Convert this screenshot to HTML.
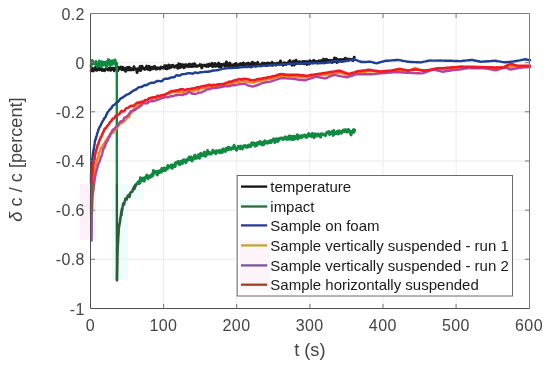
<!DOCTYPE html><html><head><meta charset="utf-8"><title>plot</title><style>html,body{margin:0;padding:0;background:#fff;width:550px;height:366px;overflow:hidden}</style></head><body><svg width="550" height="366" viewBox="0 0 550 366" style="position:absolute;left:0;top:0">
<defs><clipPath id="cp"><rect x="89.5" y="12" width="441.5" height="297"/></clipPath><clipPath id="up"><rect x="0" y="0" width="550" height="184"/></clipPath><clipPath id="lo"><rect x="0" y="184" width="550" height="182"/></clipPath></defs>
<rect width="550" height="366" fill="#fff"/>
<rect x="80" y="184" width="16" height="56" fill="#fdf0f9"/>
<rect x="112" y="184" width="16" height="96" fill="#eefcfc"/><rect x="128" y="184" width="16" height="16" fill="#f1fdfd"/>
<g stroke="#ebebeb" stroke-width="1"><line x1="163.6" y1="13.5" x2="163.6" y2="308.5"/><line x1="236.7" y1="13.5" x2="236.7" y2="308.5"/><line x1="309.9" y1="13.5" x2="309.9" y2="308.5"/><line x1="383.0" y1="13.5" x2="383.0" y2="308.5"/><line x1="456.1" y1="13.5" x2="456.1" y2="308.5"/><line x1="90.5" y1="62.7" x2="529.2" y2="62.7"/><line x1="90.5" y1="111.8" x2="529.2" y2="111.8"/><line x1="90.5" y1="161.0" x2="529.2" y2="161.0"/><line x1="90.5" y1="210.2" x2="529.2" y2="210.2"/><line x1="90.5" y1="259.3" x2="529.2" y2="259.3"/></g>
<g clip-path="url(#cp)">
<g clip-path="url(#up)">
<polyline clip-path="url(#up)" points="90.8,70.9 91.4,70.7 92.0,69.7 92.6,68.3 93.2,70.9 93.8,69.4 94.4,69.3 95.0,69.8 95.6,67.3 96.2,69.6 96.8,70.2 97.4,69.5 98.0,69.3 98.6,68.1 99.2,69.8 99.8,69.3 100.4,69.1 101.0,68.5 101.6,70.0 102.2,70.4 102.8,69.5 103.4,70.0 104.0,70.4 104.6,70.7 105.2,69.3 105.8,68.8 106.4,68.6 107.0,69.0 107.6,69.6 108.2,70.0 108.8,68.5 109.4,69.1 110.0,67.9 110.6,70.3 111.2,68.5 111.8,69.3 112.4,68.2 113.0,68.6 113.6,68.2 114.2,70.7 114.8,69.3 115.4,68.7 116.0,67.9 116.6,68.3 117.2,69.5 117.8,70.6 118.4,67.4 119.0,67.9 119.6,68.7 120.2,68.2 120.8,67.1 121.4,68.9 122.0,69.6 122.6,67.2 123.2,69.0 123.8,69.8 124.4,69.8 125.0,68.3 125.6,71.2 126.2,69.4 126.8,67.9 127.4,69.8 128.0,67.6 128.6,69.7 129.2,67.4 129.8,69.6 130.4,68.1 131.0,69.9 131.6,69.5 132.2,69.2 132.8,68.8 133.4,69.8 134.0,66.8 134.6,69.1 135.2,69.1 135.9,69.2 136.5,69.5 137.1,72.5 137.7,68.8 138.3,69.5 138.9,68.8 139.5,70.3 140.1,66.5 140.7,70.4 141.3,67.8 141.9,66.2 142.5,67.4 143.1,68.3 143.7,68.7 144.3,68.4 144.9,69.3 145.5,68.3 146.1,68.3 146.7,66.1 147.3,68.8 147.9,69.3 148.5,67.8 149.1,66.3 149.7,66.8 150.3,69.9 150.9,67.5 151.5,67.4 152.1,67.3 152.7,68.8 153.3,67.5 153.9,67.1 154.5,66.4 155.1,67.9 155.7,69.0 156.3,67.8 156.9,68.9 157.5,68.1 158.1,68.0 158.7,68.0 159.3,67.9 159.9,68.9 160.5,68.3 161.1,67.1 161.7,67.8 162.3,67.5 162.9,68.0 163.5,67.7 164.0,67.9 164.6,65.8 165.2,67.7 165.8,68.6 166.4,65.8 167.0,68.8 167.6,67.4 168.2,66.8 168.8,65.1 169.4,68.0 170.0,65.8 170.6,66.3 171.2,67.3 171.8,65.6 172.4,65.6 173.0,65.4 173.6,66.4 174.2,67.1 174.8,66.8 175.4,66.8 176.0,65.9 176.6,66.4 177.2,65.4 177.8,68.2 178.4,66.3 179.0,63.9 179.6,64.8 180.2,67.6 180.8,64.5 181.4,65.4 182.0,66.3 182.6,64.7 183.2,67.0 183.8,67.6 184.4,65.0 185.0,67.0 185.6,64.9 186.2,64.7 186.8,66.0 187.4,66.0 188.0,65.1 188.6,66.6 189.2,64.2 189.8,64.8 190.4,64.6 191.0,66.5 191.6,66.5 192.2,66.4 192.8,64.3 193.4,65.8 194.0,66.1 194.6,63.9 195.2,64.8 195.8,66.3 196.4,66.3 197.0,65.9 197.6,66.2 198.2,65.9 198.8,65.7 199.4,65.4 200.0,64.6 200.6,65.3 201.2,65.1 201.8,67.9 202.4,65.8 203.0,65.5 203.6,65.2 204.2,65.3 204.8,65.2 205.4,66.0 206.0,65.4 206.6,66.3 207.2,64.7 207.8,65.8 208.4,66.3 209.0,64.2 209.6,65.5 210.2,65.6 210.8,65.0 211.4,64.8 212.0,63.4 212.6,66.5 213.2,64.3 213.8,64.0 214.4,66.0 215.0,63.4 215.6,66.3 216.2,65.7 216.8,65.9 217.4,65.1 218.0,63.9 218.6,63.2 219.2,66.7 219.8,64.7 220.4,64.6 221.0,66.8 221.6,64.5 222.2,64.9 222.8,64.9 223.4,65.0 224.0,64.0 224.6,64.5 225.2,66.4 225.8,65.9 226.4,61.9 227.0,63.0 227.6,65.4 228.2,64.9 228.8,64.6 229.4,66.1 230.0,63.1 230.6,66.2 231.2,65.1 231.8,65.5 232.4,65.2 233.0,65.8 233.6,64.6 234.3,64.3 234.9,65.7 235.5,65.0 236.1,63.5 236.7,66.2 237.3,66.0 237.9,66.3 238.5,64.8 239.1,65.1 239.7,64.3 240.3,63.7 240.9,64.7 241.5,64.8 242.1,63.9 242.7,66.6 243.3,62.9 243.9,63.7 244.5,63.9 245.1,65.9 245.7,64.3 246.3,64.2 246.9,63.6 247.5,63.7 248.1,63.1 248.7,65.5 249.3,65.1 249.9,65.5 250.5,63.7 251.1,67.0 251.7,63.4 252.3,62.2 252.9,64.1 253.5,64.5 254.1,65.1 254.7,63.2 255.3,64.9 255.9,66.1 256.5,63.4 257.1,63.5 257.7,62.4 258.3,64.5 258.9,65.1 259.5,65.0 260.1,65.0 260.7,65.6 261.3,64.3 261.9,65.1 262.5,63.1 263.1,63.3 263.7,64.3 264.3,63.2 264.9,64.6 265.5,65.5 266.1,64.4 266.7,63.2 267.3,63.2 267.9,65.4 268.5,63.1 269.1,64.0 269.7,63.6 270.3,63.9 270.9,65.0 271.5,63.3 272.1,62.3 272.7,65.3 273.3,64.0 273.9,64.5 274.5,63.7 275.1,64.5 275.7,65.0 276.3,65.1 276.9,63.3 277.5,63.2 278.1,64.0 278.7,63.7 279.3,64.1 279.9,62.7 280.5,61.0 281.1,63.9 281.7,64.2 282.3,64.0 282.9,65.1 283.5,64.2 284.1,62.9 284.7,64.3 285.3,63.1 285.9,64.5 286.5,63.4 287.1,63.6 287.7,63.4 288.3,63.2 288.9,61.5 289.5,63.1 290.1,60.6 290.7,63.5 291.3,64.0 291.9,65.1 292.5,63.3 293.1,62.1 293.7,61.2 294.3,64.9 294.9,61.3 295.5,63.7 296.1,60.3 296.7,62.7 297.3,63.4 297.9,63.0 298.5,62.6 299.1,61.8 299.7,61.7 300.3,63.6 300.9,63.0 301.5,62.4 302.1,62.7 302.7,61.5 303.3,63.5 303.9,63.7 304.5,61.6 305.1,62.5 305.7,63.4 306.3,61.6 306.9,64.4 307.5,63.8 308.1,61.9 308.7,63.2 309.3,63.9 309.9,60.8 310.5,62.7 311.1,61.9 311.7,61.8 312.3,62.7 312.9,61.4 313.5,60.4 314.1,60.4 314.7,61.8 315.3,62.5 315.9,61.8 316.5,61.6 317.1,61.7 317.7,63.0 318.3,62.2 318.9,60.8 319.5,61.3 320.1,62.8 320.7,60.9 321.3,61.1 321.9,61.4 322.5,60.3 323.1,62.3 323.7,59.1 324.3,62.8 324.9,60.8 325.5,59.9 326.1,61.5 326.7,59.4 327.3,61.7 327.9,61.9 328.5,60.5 329.1,60.6 329.7,62.0 330.3,60.3 330.9,60.9 331.5,61.2 332.1,62.4 332.7,60.2 333.3,60.7 333.9,61.8 334.5,57.9 335.1,60.2 335.7,58.5 336.3,58.5 336.9,62.4 337.5,60.5 338.1,61.8 338.7,59.9 339.2,60.7 339.8,59.6 340.4,59.4 341.0,59.9 341.6,60.0 342.2,61.4 342.8,59.6 343.4,60.1 344.0,59.4 344.6,59.8 345.2,58.2 345.8,60.6 346.4,58.9 347.0,59.4 347.6,59.1 348.2,60.3 348.8,59.8 349.4,59.2 350.0,59.3 350.6,59.4 351.2,59.8 351.8,59.5 352.4,60.2 353.0,60.5 353.6,59.4 354.2,57.3" fill="none" stroke="#1b1b1b" stroke-width="3.0" stroke-linejoin="round" stroke-linecap="round"/>
<polyline clip-path="url(#up)" points="90.8,66.7 91.3,64.4 91.8,63.9 92.3,60.5 92.8,63.2 93.3,63.1 93.8,63.6 94.3,62.6 94.8,63.6 95.4,62.9 95.9,61.5 96.4,65.2 96.9,65.2 97.4,66.6 97.9,63.8 98.4,63.0 98.9,62.8 99.4,61.1 99.9,65.4 100.4,61.8 100.9,61.7 101.4,63.4 101.9,66.2 102.4,64.1 102.9,62.0 103.4,62.5 104.0,64.8 104.5,63.4 105.0,62.4 105.5,63.3 106.0,65.0 106.5,67.1 107.0,61.6 107.5,62.6 108.0,62.3 108.5,59.6 109.0,62.1 109.5,62.0 110.0,65.6 110.5,63.5 111.0,60.9 111.5,64.8 112.0,63.1 112.6,60.7 113.1,62.7 113.6,62.7 114.1,62.2 114.6,63.8 115.1,59.9 115.6,63.2 116.1,65.4 116.6,65.1 116.8,63.5" fill="none" stroke="#108a40" stroke-width="3.0" stroke-linejoin="round" stroke-linecap="round"/>
<polyline clip-path="url(#up)" points="117.0,280.3 117.0,279.7 117.0,279.5 117.0,275.9 117.1,277.6 117.1,273.9 117.1,274.7 117.1,272.6 117.1,275.4 117.1,275.1 117.1,272.8 117.1,274.4 117.2,271.0 117.2,271.4 117.2,270.8 117.2,268.8 117.2,269.9 117.2,271.0 117.2,267.0 117.2,268.6 117.3,266.8 117.3,268.4 117.3,266.3 117.3,266.0 117.3,265.3 117.3,264.3 117.3,261.8 117.3,264.4 117.4,260.6 117.4,261.9 117.4,261.7 117.4,259.4 117.4,259.9 117.4,260.5 117.4,258.5 117.4,256.9 117.5,254.0 117.5,255.7 117.5,255.5 117.5,255.0 117.5,253.9 117.5,254.8 117.5,253.1 117.5,253.0 117.6,253.3 117.6,251.0 117.6,251.0 117.6,253.2 117.6,251.2 117.7,248.1 117.7,248.9 117.7,249.0 117.7,249.2 117.8,247.3 117.8,246.0 117.8,245.1 117.9,246.1 117.9,245.1 117.9,243.6 118.0,243.3 118.0,242.5 118.0,243.2 118.1,241.0 118.1,241.7 118.1,241.5 118.2,240.5 118.2,238.4 118.2,240.3 118.3,237.4 118.3,238.1 118.3,236.1 118.4,234.4 118.4,236.0 118.4,235.5 118.5,234.5 118.5,234.3 118.5,232.6 118.6,231.9 118.6,232.0 118.6,233.8 118.7,231.9 118.7,229.8 118.7,230.4 118.8,228.6 118.8,228.0 118.9,229.0 119.0,226.8 119.1,224.9 119.2,225.1 119.3,225.7 119.4,225.1 119.4,225.8 119.5,223.0 119.6,224.1 119.7,223.1 119.8,221.9 119.9,222.4 120.0,221.4 120.1,219.3 120.2,220.9 120.3,217.7 120.4,218.5 120.5,217.9 120.6,217.8 120.7,215.9 120.7,216.1 120.8,215.3 120.9,216.1 121.0,213.4 121.2,213.8 121.3,212.8 121.4,211.1 121.6,215.0 121.7,211.3 121.8,209.1 122.0,211.8 122.1,208.4 122.2,209.5 122.4,209.4 122.5,207.1 122.6,206.8 122.8,206.1 122.9,206.0 123.0,203.7 123.2,203.5 123.3,204.2 123.4,205.0 123.7,204.0 124.0,204.7 124.4,203.0 124.7,201.2 125.0,201.1 125.4,198.4 125.7,199.2 126.1,198.6 126.4,199.6 126.8,199.5 127.1,197.6 127.4,197.1 127.8,195.5 128.1,196.6 128.5,196.6 128.8,196.3 129.1,194.4 129.4,197.1 129.8,195.7 130.1,193.7 130.4,192.7 130.7,192.4 131.0,192.4 131.3,191.7 131.7,191.8 132.0,191.6 132.3,191.8 132.6,191.0 132.9,189.0 133.2,189.1 133.6,187.7 133.9,187.0 134.2,189.3 134.5,186.1 134.8,188.4 135.1,185.2 135.5,185.4 135.8,185.9 136.3,184.2 136.7,184.3 137.2,183.2 137.7,182.5 138.1,182.5 138.6,181.6 139.0,183.8 139.5,181.3 140.0,183.1 140.4,177.7 140.9,180.4 141.4,180.6 141.8,179.3 142.3,180.5 142.7,179.6 143.2,178.1 143.7,178.6 144.3,181.1 144.8,177.9 145.3,177.7 145.9,176.6 146.4,177.0 146.9,175.1 147.5,176.0 148.0,178.8 148.6,177.0 149.1,176.2 149.6,176.5 150.2,177.1 150.7,175.4 151.3,176.8 151.8,175.4 152.3,174.1 152.9,175.6 153.4,170.6 154.0,172.4 154.5,173.2 155.1,171.6 155.6,172.3 156.2,171.5 156.8,171.3 157.3,174.9 157.9,172.3 158.5,171.3 159.0,172.7 159.6,170.7 160.1,171.8 160.7,171.0 161.3,172.2 161.8,168.5 162.4,170.8 162.9,169.8 163.5,168.2 164.1,170.5 164.6,168.0 165.2,170.6 165.7,169.1 166.3,169.1 166.8,168.1 167.4,168.8 167.9,165.4 168.5,167.4 169.0,166.3 169.5,167.1 170.1,166.5 170.6,167.0 171.2,165.1 171.7,167.9 172.3,168.2 172.8,165.1 173.4,165.1 173.9,165.2 174.5,166.1 175.1,166.6 175.6,162.8 176.2,163.3 176.8,162.6 177.3,162.3 177.9,161.5 178.5,163.6 179.0,161.7 179.6,164.6 180.2,163.7 180.7,161.3 181.3,161.1 181.9,161.4 182.4,163.5 183.0,160.7 183.6,159.8 184.2,161.2 184.7,161.5 185.3,160.1 185.9,162.6 186.4,160.8 187.0,160.8 187.6,159.1 188.1,159.9 188.7,159.5 189.3,156.9 189.8,159.7 190.4,157.1 191.0,158.9 191.5,157.1 192.1,160.9 192.7,158.8 193.3,159.2 193.8,159.0 194.4,156.3 195.0,155.0 195.5,157.0 196.1,158.3 196.7,157.1 197.2,157.7 197.8,157.7 198.4,154.7 198.9,156.6 199.5,158.3 200.1,155.2 200.7,153.4 201.3,155.3 201.8,154.9 202.4,155.8 203.0,154.1 203.6,155.1 204.2,152.3 204.7,155.7 205.3,156.3 205.9,155.9 206.5,152.5 207.1,154.4 207.6,150.5 208.2,154.1 208.8,153.5 209.4,152.3 210.0,153.7 210.6,153.3 211.1,154.1 211.7,153.0 212.3,153.0 212.9,150.3 213.5,151.1 214.1,151.8 214.7,152.5 215.2,152.1 215.8,153.7 216.4,150.8 217.0,151.5 217.6,151.9 218.2,151.2 218.8,151.9 219.4,150.6 220.0,152.8 220.5,150.7 221.1,152.2 221.7,150.7 222.3,152.4 222.9,148.9 223.5,151.0 224.1,149.8 224.7,150.5 225.3,151.4 225.8,148.6 226.4,148.3 227.0,148.6 227.6,149.9 228.2,147.3 228.8,149.5 229.4,147.8 230.0,147.8 230.6,148.6 231.2,149.4 231.7,148.1 232.3,148.1 232.9,148.5 233.5,148.1 234.1,145.3 234.7,147.7 235.3,148.2 235.9,149.3 236.5,150.2 237.1,148.5 237.6,147.7 238.2,146.4 238.8,147.5 239.4,148.2 240.0,148.7 240.6,146.1 241.2,147.3 241.8,147.8 242.4,148.9 243.0,147.0 243.6,145.9 244.1,145.7 244.7,145.9 245.3,145.5 245.9,147.1 246.5,147.3 247.1,146.8 247.7,147.2 248.3,145.2 248.9,146.0 249.5,145.1 250.1,145.4 250.6,146.7 251.2,145.1 251.8,142.9 252.4,144.6 253.0,143.9 253.6,142.9 254.2,143.6 254.8,145.5 255.4,146.2 255.9,143.6 256.5,145.2 257.1,145.3 257.7,142.5 258.3,143.6 258.9,143.5 259.5,143.6 260.1,141.5 260.7,142.8 261.2,144.3 261.8,144.4 262.4,144.9 263.0,142.3 263.6,144.8 264.2,143.2 264.8,140.8 265.4,143.1 266.0,141.7 266.5,142.6 267.1,141.8 267.7,143.2 268.3,141.9 268.9,141.2 269.5,142.5 270.1,141.6 270.7,140.7 271.3,142.5 271.8,140.5 272.4,140.1 273.0,140.1 273.6,138.9 274.2,139.8 274.8,142.5 275.4,139.2 276.0,140.1 276.6,138.7 277.1,139.2 277.7,141.5 278.3,140.7 278.9,138.8 279.5,139.4 280.1,138.3 280.7,138.2 281.3,138.0 281.9,137.9 282.5,139.2 283.1,139.5 283.7,139.3 284.2,138.5 284.8,137.0 285.4,138.4 286.0,137.4 286.6,139.4 287.2,138.9 287.8,139.1 288.4,137.7 289.0,136.0 289.6,139.1 290.2,139.3 290.8,136.2 291.4,137.9 292.0,139.1 292.6,136.4 293.2,139.6 293.8,137.1 294.4,136.2 295.0,138.9 295.6,137.6 296.2,136.5 296.8,138.1 297.4,134.8 298.0,139.1 298.6,136.0 299.2,137.2 299.8,136.3 300.4,137.2 301.0,137.7 301.5,135.6 302.1,137.4 302.7,136.1 303.3,135.6 303.9,136.0 304.5,135.0 305.1,135.2 305.7,137.1 306.3,135.8 306.9,137.2 307.5,136.3 308.1,134.6 308.7,133.6 309.3,134.9 309.9,135.9 310.5,135.6 311.1,134.5 311.7,136.6 312.3,133.4 312.9,133.9 313.5,135.4 314.1,137.7 314.7,135.6 315.3,133.9 315.9,135.7 316.5,135.8 317.1,136.0 317.7,134.4 318.3,133.9 318.9,134.9 319.5,135.2 320.1,136.5 320.7,137.0 321.3,133.7 321.9,133.9 322.5,134.3 323.1,134.0 323.7,134.8 324.3,134.8 324.9,134.5 325.5,135.6 326.1,133.9 326.7,132.8 327.3,132.1 327.9,132.7 328.5,132.6 329.0,131.6 329.6,134.5 330.2,133.9 330.8,133.1 331.4,132.5 332.0,131.6 332.6,132.3 333.2,135.4 333.8,130.6 334.4,133.2 335.0,133.8 335.6,133.0 336.2,132.3 336.8,133.5 337.4,131.2 337.9,133.0 338.5,133.9 339.1,130.9 339.7,131.0 340.3,132.0 340.9,132.9 341.5,133.2 342.1,132.3 342.7,130.6 343.2,130.0 343.8,131.4 344.4,131.5 345.0,129.7 345.6,130.9 346.2,131.2 346.8,132.1 347.4,129.8 348.0,131.6 348.6,129.6 349.2,130.5 349.8,130.9 350.4,132.8 351.0,134.9 351.6,131.4 352.2,131.7 352.8,132.4 353.4,129.7 354.0,132.1 354.6,129.9" fill="none" stroke="#108a40" stroke-width="3.0" stroke-linejoin="round" stroke-linecap="round"/>
<polyline clip-path="url(#up)" points="116.6,65.1 116.8,63.5 116.9,279.0 117.0,280.3 117.0,279.7 117.0,279.5" fill="none" stroke="#108a40" stroke-width="2.4" stroke-linejoin="round" stroke-linecap="round"/>
<polyline clip-path="url(#up)" points="91.0,214.0 91.0,213.2 91.0,211.4 91.0,209.4 90.9,207.6 90.9,206.7 90.9,205.6 90.9,204.6 90.9,202.9 90.9,201.2 90.9,200.7 90.8,199.3 90.8,197.6 90.8,196.5 90.8,195.2 90.8,193.8 90.8,192.6 90.8,191.2 90.8,189.9 90.8,188.9 90.8,187.6 90.8,186.1 90.8,184.7 90.8,183.6 90.8,182.2 90.8,180.9 90.8,179.1 90.8,177.3 90.8,176.4 90.9,175.6 90.9,174.8 91.0,172.9 91.1,171.4 91.1,170.8 91.2,169.6 91.3,168.1 91.3,166.4 91.4,164.6 91.6,163.9 91.8,163.6 91.9,162.0 92.1,160.3 92.3,158.9 92.5,157.8 92.7,156.6 92.8,154.9 93.0,153.2 93.2,151.9 93.4,151.2 93.6,150.4 93.8,148.7 94.0,147.3 94.2,146.3 94.5,144.6 94.7,143.2 94.9,141.5 95.1,140.2 95.5,139.8 95.9,138.6 96.2,136.8 96.6,136.2 97.0,134.5 97.3,133.0 97.7,132.2 98.1,130.9 98.4,130.0 98.8,128.7 99.5,127.3 100.1,126.4 100.7,125.4 101.3,123.9 101.9,122.6 102.6,121.2 103.2,120.5 103.8,119.4 104.4,118.0 105.1,117.6 105.7,116.7 106.3,115.0 107.0,113.4 107.6,112.2 108.3,111.5 108.9,110.7 109.8,109.4 110.6,109.1 111.5,107.9 112.4,106.1 113.3,105.3 114.3,104.7 115.3,104.0 116.3,103.0 117.2,102.2 118.2,101.6 119.2,100.5 120.2,98.8 121.1,98.2 122.2,97.9 123.3,96.8 124.4,96.4 125.5,95.5 126.6,94.7 127.7,94.3 128.8,93.8 130.0,93.2 131.1,92.3 132.2,91.5 133.3,90.8 134.4,90.1 135.5,89.8 136.6,89.1 137.7,88.0 138.8,87.3 140.0,87.1 141.2,87.0 142.4,86.5 143.6,85.7 144.9,85.0 146.1,85.2 147.3,84.9 148.6,83.6 149.8,83.4 151.0,82.8 152.3,82.8 153.5,82.9 154.7,82.3 156.0,81.6 157.2,80.9 158.5,81.0 159.7,81.1 161.0,81.3 162.2,81.0 163.5,79.4 164.7,78.8 166.0,78.8 167.2,78.8 168.5,78.5 169.8,78.0 171.0,77.6 172.3,77.3 173.5,77.4 174.8,76.8 176.0,75.5 177.3,75.1 178.5,75.7 179.8,75.6 181.0,74.8 182.3,74.1 183.5,74.1 184.8,74.1 186.1,73.7 187.4,73.4 188.7,73.3 190.0,73.3 191.3,73.4 192.6,73.7 193.9,73.1 195.2,72.4 196.5,72.8 197.8,73.0 199.1,72.6 200.3,72.2 201.6,72.3 202.9,72.1 204.2,71.9 205.5,71.8 206.8,71.8 208.0,71.8 209.3,71.5 210.6,71.3 211.9,70.8 213.2,70.5 214.5,70.5 215.8,70.4 217.0,70.2 218.3,70.0 219.6,69.6 220.9,69.4 222.1,68.9 223.4,68.6 224.7,68.5 226.0,68.4 227.3,68.3 228.6,68.1 229.9,68.1 231.2,68.0 232.5,68.1 233.8,67.9 235.1,67.8 236.4,67.7 237.7,67.7 238.9,67.6 240.2,67.4 241.5,67.3 242.8,67.1 244.1,67.0 245.4,67.1 246.7,66.9 248.0,66.9 249.3,66.8 250.6,66.7 251.9,66.7 253.2,66.4 254.5,66.2 255.8,66.2 257.1,66.1 258.4,66.1 259.7,66.1 261.0,66.1 262.3,65.7 263.6,65.6 264.9,65.6 266.2,65.6 267.5,65.5 268.8,65.3 270.1,65.1 271.4,65.0 272.7,64.9 274.0,64.9 275.3,64.8 276.5,64.7 277.8,64.7 279.1,64.6 280.4,64.5 281.7,64.4 283.0,64.3 284.3,64.2 285.6,64.1 286.9,64.1 288.2,64.0 289.5,63.9 290.8,63.8 292.1,63.7 293.4,63.7 294.7,63.6 296.0,63.6 297.3,63.6 298.6,63.5 299.9,63.5 301.2,63.5 302.5,63.4 303.8,63.4 305.1,63.3 306.4,63.2 307.7,63.2 309.0,63.2 310.3,63.2 311.6,63.3 312.9,63.2 314.2,63.2 315.5,63.1 316.8,63.1 318.1,63.1 319.4,63.0 320.7,63.0 322.0,63.1 323.3,63.0 324.6,63.0 325.9,62.9 327.2,62.6 328.4,62.2 329.7,62.0 331.0,61.7 332.3,61.4 333.5,61.1 334.8,61.1 336.1,61.2 337.4,61.3 338.7,61.4 340.0,61.4 341.3,61.4 342.6,61.5 343.9,61.4 345.2,61.1 346.4,60.8 347.7,60.6 349.0,60.4 350.3,60.1 351.5,59.8 352.8,59.5 354.1,59.3 355.3,59.7 356.5,60.2 357.7,60.6 359.0,61.1 360.2,61.5 361.4,62.0 362.7,62.0 364.0,62.0 365.3,61.9 366.6,61.9 367.9,61.8 369.2,61.7 370.5,61.8 371.7,62.1 373.0,62.4 374.2,62.7 375.5,63.1 376.8,63.3 378.0,62.9 379.3,62.5 380.5,62.1 381.8,61.8 383.0,61.5 384.3,61.1 385.5,60.8 386.8,60.7 388.1,60.7 389.4,60.6 390.7,60.5 392.0,60.4 393.3,60.3 394.6,60.2 395.9,60.0 397.2,60.0 398.5,59.9 399.8,60.1 401.1,60.4 402.3,60.7 403.6,60.9 404.9,61.1 406.2,61.4 407.4,61.7 408.7,61.8 410.0,61.9 411.3,61.9 412.6,62.0 413.9,62.1 415.2,62.1 416.5,62.2 417.8,62.2 419.1,62.3 420.4,62.4 421.7,62.2 423.0,61.9 424.2,61.6 425.5,61.4 426.8,61.1 428.1,60.8 429.3,60.6 430.6,60.5 431.9,60.6 433.2,60.6 434.5,60.6 435.8,60.6 437.1,60.6 438.4,60.5 439.7,60.6 441.0,60.5 442.3,60.6 443.6,60.6 444.9,60.7 446.2,60.7 447.5,60.7 448.8,60.8 450.1,60.8 451.4,60.8 452.7,60.9 454.0,61.0 455.3,61.0 456.6,61.0 457.9,61.0 459.2,61.1 460.5,61.1 461.8,61.0 463.1,60.8 464.4,60.7 465.7,60.6 467.0,60.4 468.3,60.3 469.6,60.2 470.9,60.0 472.2,59.9 473.4,60.2 474.7,60.5 476.0,60.7 477.3,61.0 478.5,61.2 479.8,61.5 481.1,61.7 482.4,61.6 483.7,61.5 485.0,61.4 486.3,61.4 487.6,61.3 488.9,61.2 490.2,61.1 491.5,61.0 492.8,60.9 494.1,60.8 495.4,60.7 496.7,61.0 497.9,61.3 499.2,61.4 500.5,61.6 501.8,61.9 503.1,62.1 504.3,62.2 505.6,62.3 506.9,62.2 508.2,62.0 509.5,61.9 510.8,61.8 512.1,61.6 513.4,61.5 514.7,61.3 516.0,61.1 517.2,60.8 518.5,60.6 519.8,60.4 521.1,60.1 522.3,59.8 523.6,59.6 524.9,59.3 526.2,59.5 527.4,59.7 528.7,60.0 530.0,60.2" fill="none" stroke="#1f3f92" stroke-width="2.45" stroke-linejoin="round" stroke-linecap="round"/>
<polyline clip-path="url(#up)" points="91.3,214.6 91.3,213.0 91.3,211.1 91.4,210.2 91.4,209.2 91.4,207.5 91.4,205.8 91.4,205.1 91.5,204.8 91.5,203.1 91.5,201.4 91.5,200.7 91.5,199.6 91.6,197.7 91.6,196.2 91.7,195.4 91.8,194.8 91.9,193.3 92.1,191.5 92.2,190.5 92.3,189.0 92.5,187.1 92.6,185.7 92.7,185.3 92.9,183.7 93.0,182.0 93.2,180.6 93.3,179.3 93.4,178.4 93.6,177.3 93.8,175.7 94.0,174.1 94.2,172.7 94.4,171.7 94.7,170.7 95.0,170.1 95.2,168.5 95.5,166.7 95.8,165.5 96.0,163.8 96.3,163.1 96.6,162.1 96.8,160.7 97.2,158.8 97.7,158.3 98.1,158.2 98.5,155.9 99.0,153.5 99.4,152.3 99.8,151.6 100.3,150.3 100.7,149.1 101.2,147.9 101.7,147.6 102.4,146.7 103.1,144.5 103.8,144.2 104.5,143.3 105.3,141.6 106.0,140.4 106.7,139.5 107.4,138.3 108.1,137.0 108.9,135.9 109.8,134.5 110.7,133.6 111.6,133.2 112.5,133.0 113.5,132.1 114.4,130.5 115.3,129.5 116.2,128.9 117.1,127.2 118.1,125.9 119.0,125.1 119.9,123.7 120.8,123.3 121.7,122.9 122.7,122.2 123.6,121.4 124.5,120.9 125.4,120.1 126.4,118.9 127.3,117.7 128.2,117.3 129.1,117.0 129.8,115.0 130.5,113.3 131.3,112.7 132.0,112.1 132.7,110.7 133.4,109.6 134.2,108.3 135.3,107.1 136.3,107.1 137.3,106.2 138.4,105.1 139.4,104.5 140.5,103.6 141.6,102.3 142.7,101.6 143.8,101.6 144.9,101.1 146.0,100.7 147.2,100.2 148.3,99.2 149.4,98.3 150.7,98.7 152.0,98.9 153.3,98.1 154.6,97.5 155.8,97.7 157.1,97.9 158.4,97.3 159.6,96.6 160.9,96.3 162.1,95.7 163.3,96.0 164.6,95.1 165.8,94.4 167.1,94.1 168.3,93.2 169.6,93.6 170.9,93.1 172.1,92.3 173.4,92.0 174.7,91.9 176.0,92.1 177.2,92.5 178.5,92.1 179.8,91.9 181.1,91.7 182.4,92.0 183.7,92.1 185.0,91.2 186.3,91.3 187.6,91.3 188.9,91.0 190.2,90.4 191.5,90.5 192.8,91.1 194.1,90.6 195.4,89.9 196.7,89.9 197.9,90.4 199.2,89.5 200.4,88.6 201.7,88.6 202.9,88.3 204.1,87.8 205.4,87.6 206.6,87.4 207.9,87.3 209.2,87.3 210.5,87.3 211.8,86.8 213.1,86.0 214.4,86.2 215.7,86.7 216.9,86.6 218.2,86.2 219.5,86.3 220.8,85.9 222.1,85.4 223.4,85.7 224.6,85.5 225.9,85.4 227.2,85.0 228.4,84.4 229.7,83.9 230.9,83.7 232.2,83.4 233.5,83.1 234.7,82.5 236.0,81.9 237.3,81.9 238.6,82.1 239.9,81.6 241.1,81.3 242.4,81.2 243.7,81.2 245.0,81.4 246.3,81.7 247.6,81.8 248.9,81.9 250.1,82.3 251.4,82.4 252.7,82.7 254.0,82.5 255.3,81.9 256.5,81.5 257.8,81.2 259.1,81.0 260.3,80.7 261.6,80.5 262.9,80.1 264.1,79.9 265.4,79.6 266.7,79.3 268.0,79.3 269.2,79.1 270.5,78.8 271.8,78.4 273.0,78.0 274.3,77.7 275.5,77.4 276.8,77.0 278.0,76.6 279.3,76.3 280.5,75.9 281.8,75.8 283.1,75.9 284.4,75.9 285.7,76.0 287.0,76.1 288.3,76.2 289.6,76.2 290.9,76.2 292.2,76.3 293.5,76.5 294.8,76.6 296.1,76.7 297.4,76.8 298.7,76.9 300.0,77.0 301.2,77.0 302.5,77.2 303.8,77.2 305.1,77.2 306.4,77.0 307.7,76.7 309.0,76.6 310.3,76.4 311.6,76.2 312.8,76.0 314.1,75.8 315.4,75.6 316.7,75.5 318.0,75.4 319.3,75.3 320.6,75.2 321.9,75.1 323.2,75.1 324.5,75.1 325.8,74.8 327.1,74.6 328.3,74.5 329.6,74.3 330.9,74.2 332.2,73.9 333.5,73.7 334.8,73.5 336.0,73.4 337.3,73.1 338.6,72.9 339.9,72.8 341.2,73.0 342.4,73.3 343.7,73.7 344.9,74.0 346.2,74.3 347.5,74.7 348.7,75.1 350.0,74.7 351.2,74.3 352.5,73.9 353.7,73.6 355.0,73.2 356.3,73.0 357.5,72.7 358.8,72.4 360.1,72.3 361.4,72.2 362.7,72.0 364.0,71.8 365.3,71.8 366.5,71.6 367.8,71.4 369.1,71.3 370.4,71.2 371.7,71.2 373.0,71.3 374.3,71.4 375.6,71.5 376.9,71.6 378.2,71.6 379.5,71.8 380.8,71.9 382.1,72.0 383.4,72.0 384.7,71.8 386.0,71.7 387.3,71.5 388.6,71.4 389.9,71.2 391.2,71.0 392.4,70.9 393.7,70.8 395.0,70.6 396.3,70.5 397.6,70.6 398.9,70.8 400.2,70.9 401.5,71.0 402.8,71.1 404.1,71.2 405.4,71.5 406.7,71.5 407.9,71.1 409.1,70.6 410.3,70.1 411.5,69.6 412.7,69.0 413.9,68.5 415.0,67.9 416.3,68.4 417.5,68.9 418.7,69.3 420.0,69.7 421.2,70.1 422.4,70.5 423.7,70.9 425.0,70.8 426.2,70.7 427.5,70.5 428.8,70.5 430.1,70.4 431.4,70.1 432.7,70.1 434.0,69.9 435.3,69.6 436.6,69.5 437.9,69.4 439.2,69.2 440.5,69.1 441.8,69.1 443.1,69.0 444.3,68.9 445.6,68.7 446.9,68.6 448.2,68.4 449.5,68.3 450.8,68.2 452.1,68.2 453.4,68.1 454.7,68.1 456.0,68.0 457.3,67.9 458.6,67.8 459.9,67.7 461.2,67.6 462.5,67.7 463.8,67.7 465.1,67.7 466.4,67.7 467.7,67.7 469.0,67.7 470.3,67.7 471.6,67.7 472.9,67.7 474.2,67.7 475.5,67.7 476.8,67.7 478.1,67.6 479.4,67.7 480.7,67.8 482.0,67.8 483.3,67.8 484.6,67.8 485.9,67.8 487.2,67.9 488.5,67.9 489.8,67.9 491.1,67.9 492.4,68.0 493.7,68.0 495.0,67.9 496.3,67.9 497.6,67.9 498.9,67.9 500.2,67.9 501.5,67.8 502.8,67.8 504.1,67.6 505.4,67.3 506.7,67.1 507.9,66.9 509.2,66.6 510.5,66.5 511.8,66.4 513.1,66.5 514.4,66.5 515.7,66.6 517.0,66.5 518.3,66.5 519.6,66.5 520.9,66.4 522.2,66.5 523.5,66.5 524.8,66.4 526.1,66.3 527.4,66.3 528.7,66.3 530.0,66.3" fill="none" stroke="#f58220" stroke-width="2.4" stroke-linejoin="round" stroke-linecap="round"/>
<polyline clip-path="url(#up)" points="91.5,240.5 91.5,239.3 91.5,238.0 91.5,236.7 91.5,235.6 91.6,234.4 91.6,232.8 91.6,231.6 91.6,230.4 91.6,229.2 91.6,228.1 91.6,226.4 91.6,224.6 91.6,223.3 91.6,222.8 91.7,221.5 91.7,220.1 91.7,218.7 91.7,216.9 91.7,215.4 91.7,213.5 91.8,212.6 91.8,212.0 91.9,210.6 91.9,209.5 92.0,207.9 92.1,206.9 92.1,205.4 92.2,203.6 92.2,202.4 92.3,200.9 92.3,200.5 92.4,198.7 92.4,197.1 92.5,196.4 92.6,195.1 92.8,193.8 92.9,192.8 93.1,191.6 93.3,190.1 93.5,189.0 93.6,187.8 93.8,186.1 94.0,184.2 94.2,183.2 94.4,182.2 94.5,181.2 94.7,179.9 94.9,177.6 95.1,176.9 95.4,175.8 95.7,173.6 96.0,173.0 96.3,171.7 96.6,170.5 96.9,169.4 97.2,167.9 97.6,167.0 98.0,165.0 98.5,163.7 98.9,163.0 99.3,161.8 99.7,160.9 100.1,160.1 100.5,158.6 100.9,156.8 101.3,156.4 101.8,155.5 102.2,153.8 102.6,151.7 103.1,149.8 103.5,148.9 103.9,148.1 104.4,147.2 104.8,147.0 105.3,145.2 105.9,142.9 106.5,142.4 107.1,141.5 107.7,140.5 108.3,139.2 108.8,137.3 109.4,137.0 110.0,136.3 110.6,134.0 111.2,132.5 111.8,131.8 112.4,130.2 113.2,129.5 114.1,129.2 115.1,127.9 116.0,126.7 116.9,126.5 117.8,125.7 118.8,124.0 119.7,122.4 120.6,121.3 121.6,121.4 122.5,121.4 123.4,119.8 124.3,117.7 125.3,117.2 126.2,117.0 127.1,116.3 128.1,115.2 129.0,114.0 129.9,112.7 130.9,111.3 131.9,111.1 133.0,110.6 134.1,110.3 135.2,110.1 136.3,108.7 137.3,108.2 138.4,107.7 139.5,106.2 140.6,106.2 141.8,104.9 142.9,103.4 144.1,103.4 145.3,103.3 146.4,103.4 147.6,103.2 148.7,101.9 150.0,101.4 151.3,101.3 152.5,101.3 153.8,101.1 155.1,100.7 156.4,100.2 157.6,99.9 158.9,99.4 160.1,98.8 161.4,98.3 162.6,97.9 163.9,97.8 165.1,97.1 166.4,97.1 167.6,97.4 168.9,97.0 170.1,96.4 171.4,96.3 172.6,96.2 173.9,96.0 175.1,95.3 176.4,95.3 177.7,95.1 178.9,94.9 180.2,94.8 181.5,95.0 182.7,95.0 184.0,94.0 185.3,94.2 186.5,93.8 187.8,92.8 189.1,92.0 190.4,92.3 191.7,93.5 193.0,93.7 194.3,93.7 195.6,94.0 196.9,93.5 198.2,93.0 199.4,92.6 200.6,92.6 201.7,92.1 202.9,91.5 204.1,91.1 205.3,90.5 206.5,89.5 207.7,89.0 209.0,89.3 210.3,89.0 211.6,88.4 212.9,88.1 214.2,88.1 215.4,88.1 216.7,87.9 218.0,87.5 219.3,87.3 220.6,87.3 221.9,86.9 223.2,86.5 224.5,86.3 225.7,86.4 227.0,86.3 228.3,86.3 229.6,86.0 230.9,85.7 232.1,85.3 233.4,85.1 234.7,85.2 236.0,85.0 237.3,84.7 238.6,84.4 239.9,84.3 241.2,84.0 242.5,83.9 243.7,83.8 245.0,83.8 246.3,84.5 247.5,85.2 248.7,85.6 250.0,85.8 251.2,86.1 252.5,86.6 253.7,86.4 254.9,85.7 256.1,85.5 257.3,85.3 258.6,84.7 259.8,84.1 261.0,83.5 262.2,83.0 263.5,82.8 264.7,82.5 266.0,82.2 267.3,82.0 268.6,81.9 269.8,81.7 271.1,81.3 272.4,80.8 273.6,80.6 274.8,80.2 276.1,79.7 277.3,79.3 278.5,78.8 279.8,78.5 281.0,78.1 282.3,78.2 283.6,78.2 284.9,78.2 286.2,78.4 287.5,78.5 288.8,78.5 290.1,78.6 291.4,78.6 292.7,78.8 294.0,79.0 295.3,79.0 296.6,79.3 297.8,79.6 299.1,79.7 300.4,79.8 301.7,79.9 303.0,80.2 304.3,80.3 305.6,80.1 306.8,79.7 308.0,79.2 309.3,78.8 310.5,78.5 311.7,78.1 313.0,77.7 314.2,77.3 315.4,76.8 316.7,76.9 318.0,77.1 319.2,77.3 320.5,77.6 321.8,77.8 323.1,78.1 324.4,78.4 325.6,78.3 326.8,77.8 328.0,77.3 329.2,76.7 330.4,76.2 331.6,75.9 332.8,75.5 334.1,74.9 335.3,75.1 336.6,75.4 337.9,75.6 339.2,75.8 340.5,76.1 341.7,76.4 343.0,76.6 344.3,76.8 345.6,77.0 346.9,77.3 348.1,77.0 349.3,76.5 350.6,76.2 351.8,75.8 353.0,75.3 354.3,74.9 355.5,74.4 356.8,74.3 358.1,74.3 359.4,74.2 360.7,74.2 362.0,74.3 363.3,74.3 364.6,74.3 365.9,74.3 367.2,74.3 368.5,74.3 369.8,74.3 371.1,74.3 372.4,74.2 373.7,74.1 375.0,74.0 376.3,73.8 377.6,73.6 378.9,73.5 380.2,73.3 381.5,73.2 382.8,73.1 384.1,73.0 385.4,73.0 386.6,72.9 387.9,72.7 389.2,72.6 390.5,72.6 391.8,72.5 393.1,72.3 394.4,72.2 395.7,72.2 397.0,72.1 398.3,72.2 399.6,72.3 400.9,72.4 402.2,72.5 403.5,72.5 404.8,72.6 406.1,72.7 407.4,72.8 408.7,72.9 410.0,72.9 411.3,73.0 412.6,73.0 413.9,73.1 415.2,73.1 416.5,73.2 417.8,73.3 419.1,73.3 420.4,73.4 421.7,73.4 423.0,73.1 424.2,72.7 425.4,72.4 426.7,71.9 427.9,71.4 429.1,71.0 430.3,70.5 431.6,70.0 432.8,69.7 434.0,69.7 435.3,70.0 436.5,70.2 437.8,70.5 439.1,70.9 440.3,71.2 441.6,71.5 442.8,71.7 444.1,71.5 445.4,71.3 446.7,71.1 448.0,70.8 449.3,70.7 450.6,70.5 451.8,70.3 453.1,70.1 454.4,70.0 455.7,69.9 457.0,69.8 458.3,69.6 459.6,69.5 460.9,69.4 462.2,69.1 463.5,68.8 464.7,68.6 466.0,68.5 467.3,68.3 468.6,68.1 469.9,68.1 471.2,68.2 472.5,68.1 473.8,68.2 475.1,68.3 476.4,68.3 477.7,68.4 479.0,68.4 480.3,68.4 481.6,68.4 482.9,68.4 484.2,68.4 485.5,68.5 486.8,68.6 488.1,68.8 489.4,69.0 490.6,69.2 491.9,69.5 493.2,69.8 494.5,70.0 495.8,70.3 497.0,69.9 498.2,69.5 499.5,69.2 500.7,68.7 502.0,68.4 503.2,68.1 504.5,67.8 505.7,67.8 506.9,68.2 508.2,68.6 509.4,69.1 510.6,69.5 511.9,69.2 513.2,69.0 514.5,68.8 515.8,68.6 517.1,68.3 518.4,68.2 519.6,67.9 520.9,67.7 522.2,67.6 523.5,67.4 524.8,67.3 526.1,67.2 527.4,67.2 528.7,67.1 530.0,67.0" fill="none" stroke="#b5429c" stroke-width="2.4" stroke-linejoin="round" stroke-linecap="round"/>
<polyline clip-path="url(#up)" points="91.2,214.1 91.2,213.0 91.2,211.6 91.2,210.9 91.2,209.8 91.2,207.7 91.2,207.2 91.2,205.8 91.3,203.6 91.3,201.9 91.3,201.1 91.3,200.5 91.3,199.4 91.3,198.0 91.3,196.3 91.3,195.0 91.4,194.4 91.4,192.7 91.5,192.1 91.5,190.9 91.6,188.8 91.6,188.3 91.7,186.9 91.7,185.1 91.8,183.7 91.8,182.8 91.9,180.3 91.9,178.7 92.0,178.2 92.1,176.4 92.2,175.3 92.3,174.4 92.5,173.2 92.6,171.6 92.7,170.6 92.8,168.7 93.0,166.7 93.1,165.7 93.3,164.8 93.5,163.8 93.8,162.6 94.0,161.3 94.2,160.2 94.5,159.5 94.7,157.6 95.0,155.4 95.2,153.9 95.5,152.7 95.7,152.3 95.9,151.8 96.3,149.7 96.7,148.9 97.1,148.0 97.5,145.3 97.9,144.5 98.3,144.5 98.7,142.9 99.1,140.9 99.5,140.1 100.1,139.1 100.7,137.5 101.2,136.6 101.8,135.6 102.4,134.1 103.0,132.4 103.5,131.7 104.1,130.1 104.7,128.8 105.3,128.6 106.2,127.6 107.0,126.4 107.8,125.3 108.6,124.7 109.4,123.2 110.2,121.9 111.1,121.4 111.9,120.0 112.7,118.5 113.6,118.5 114.4,118.2 115.3,116.4 116.2,115.4 117.3,115.1 118.3,114.6 119.4,114.1 120.5,112.1 121.6,110.8 122.7,111.5 123.8,111.5 124.9,110.1 126.0,108.4 127.1,108.1 128.3,107.6 129.4,106.9 130.5,106.0 131.7,105.8 132.9,105.9 134.1,105.4 135.3,104.3 136.5,103.1 137.8,102.5 139.0,102.8 140.2,102.2 141.4,101.7 142.5,102.4 143.7,101.4 144.9,100.1 146.1,100.2 147.2,100.0 148.4,98.9 149.6,98.0 150.9,98.0 152.1,97.6 153.4,97.4 154.7,97.3 155.9,97.2 157.2,96.1 158.4,95.7 159.7,96.3 160.9,95.5 162.2,95.0 163.4,95.1 164.7,94.7 166.0,93.9 167.2,93.6 168.4,92.9 169.6,91.9 170.8,91.4 172.0,91.1 173.3,91.0 174.5,91.0 175.7,90.5 176.9,90.4 178.2,90.3 179.5,89.6 180.8,89.4 182.1,89.3 183.4,89.4 184.7,90.1 186.0,89.6 187.2,89.1 188.5,89.3 189.8,89.1 191.1,88.8 192.4,88.6 193.7,88.4 194.9,88.2 196.2,87.6 197.5,87.3 198.8,87.8 200.0,86.9 201.3,86.6 202.5,86.3 203.8,86.0 205.0,85.9 206.3,85.5 207.5,85.2 208.8,84.7 210.1,85.0 211.4,85.6 212.7,85.0 214.0,84.8 215.3,85.2 216.6,84.9 217.9,84.3 219.2,84.4 220.4,84.3 221.7,84.0 223.0,84.2 224.3,83.8 225.5,83.0 226.8,82.8 228.0,82.3 229.3,81.6 230.5,82.0 231.8,81.6 233.0,80.8 234.3,80.4 235.5,80.0 236.8,80.0 238.1,79.4 239.4,79.1 240.7,79.4 242.0,79.4 243.2,79.1 244.5,78.8 245.8,79.0 247.1,79.3 248.4,79.4 249.7,79.7 250.9,80.2 252.2,80.3 253.5,80.2 254.8,80.1 256.1,79.6 257.3,79.3 258.6,79.1 259.9,78.9 261.2,78.7 262.4,78.4 263.7,78.1 265.0,78.0 266.3,77.8 267.5,77.4 268.8,77.1 270.1,77.0 271.4,76.7 272.6,76.2 273.9,76.0 275.1,75.8 276.4,75.4 277.6,74.9 278.9,74.5 280.1,74.2 281.4,74.1 282.7,74.2 284.0,74.4 285.3,74.6 286.6,74.8 287.8,74.8 289.1,74.9 290.4,74.9 291.7,74.9 293.0,74.9 294.3,74.8 295.6,74.8 296.9,74.8 298.2,74.9 299.5,75.1 300.8,75.3 302.1,75.4 303.4,75.4 304.7,75.5 306.0,75.7 307.3,75.7 308.6,75.5 309.9,75.2 311.1,74.9 312.4,74.9 313.7,74.7 315.0,74.4 316.3,74.2 317.6,74.1 318.9,73.9 320.1,73.7 321.4,73.5 322.7,73.3 324.0,73.2 325.3,72.9 326.6,72.7 327.9,72.5 329.1,72.3 330.4,72.1 331.7,71.9 333.0,71.7 334.3,71.5 335.6,71.3 336.9,71.1 338.1,70.9 339.4,70.7 340.7,71.1 341.9,71.5 343.1,71.9 344.3,72.4 345.6,72.8 346.8,73.3 348.0,73.6 349.2,73.8 350.5,73.5 351.7,73.0 353.0,72.7 354.2,72.4 355.5,72.0 356.7,71.6 357.9,71.2 359.2,71.0 360.5,70.9 361.8,70.7 363.1,70.6 364.4,70.5 365.7,70.3 367.0,70.1 368.3,69.9 369.6,69.9 370.8,70.1 372.1,70.3 373.4,70.5 374.7,70.8 376.0,70.9 377.3,71.1 378.6,71.3 379.9,71.5 381.1,71.6 382.4,71.4 383.7,71.2 385.0,71.1 386.3,71.1 387.6,70.9 388.9,70.8 390.2,70.7 391.5,70.6 392.8,70.3 394.0,70.0 395.3,69.7 396.6,69.4 397.9,69.2 399.1,68.9 400.4,69.0 401.7,69.3 402.9,69.6 404.2,69.8 405.5,70.1 406.7,70.4 408.0,70.6 409.3,70.4 410.6,70.2 411.8,69.9 413.1,69.6 414.4,69.5 415.7,69.6 417.0,69.8 418.3,69.9 419.5,70.0 420.8,70.2 422.1,70.4 423.4,70.6 424.7,70.6 426.0,70.4 427.3,70.2 428.5,70.0 429.8,69.7 431.1,69.5 432.4,69.2 433.7,69.0 434.9,68.8 436.2,68.6 437.5,68.4 438.8,68.3 440.1,68.3 441.4,68.3 442.7,68.2 444.0,68.1 445.3,68.0 446.6,67.9 447.9,67.9 449.2,67.8 450.5,67.6 451.8,67.4 453.1,67.3 454.4,67.3 455.7,67.2 457.0,67.0 458.3,66.9 459.5,66.7 460.8,66.6 462.1,66.5 463.4,66.7 464.7,66.7 466.0,66.7 467.3,66.8 468.6,66.8 469.9,66.8 471.2,66.8 472.5,66.9 473.8,66.9 475.1,66.9 476.4,67.0 477.7,67.1 479.0,67.0 480.3,67.0 481.6,67.1 482.9,67.1 484.2,67.2 485.5,67.3 486.8,67.3 488.1,67.3 489.4,67.4 490.7,67.4 492.0,67.4 493.3,67.5 494.6,67.6 495.9,67.5 497.2,67.4 498.5,67.5 499.8,67.5 501.1,67.4 502.4,67.5 503.7,67.2 504.8,66.6 506.0,66.0 507.2,65.5 508.3,64.9 509.5,64.3 510.7,64.0 512.0,64.3 513.2,64.6 514.5,64.9 515.8,65.3 517.0,65.6 518.3,65.7 519.6,65.7 520.9,65.8 522.2,65.7 523.5,65.7 524.8,65.8 526.1,65.7 527.4,65.7 528.7,65.7 530.0,65.8" fill="none" stroke="#ed1c24" stroke-width="2.6" stroke-linejoin="round" stroke-linecap="round"/>
</g><g clip-path="url(#lo)">
<polyline clip-path="url(#lo)" points="117.0,280.3 117.0,279.7 117.0,279.5 117.0,275.9 117.1,277.6 117.1,273.9 117.1,274.7 117.1,272.6 117.1,275.4 117.1,275.1 117.1,272.8 117.1,274.4 117.2,271.0 117.2,271.4 117.2,270.8 117.2,268.8 117.2,269.9 117.2,271.0 117.2,267.0 117.2,268.6 117.3,266.8 117.3,268.4 117.3,266.3 117.3,266.0 117.3,265.3 117.3,264.3 117.3,261.8 117.3,264.4 117.4,260.6 117.4,261.9 117.4,261.7 117.4,259.4 117.4,259.9 117.4,260.5 117.4,258.5 117.4,256.9 117.5,254.0 117.5,255.7 117.5,255.5 117.5,255.0 117.5,253.9 117.5,254.8 117.5,253.1 117.5,253.0 117.6,253.3 117.6,251.0 117.6,251.0 117.6,253.2 117.6,251.2 117.7,248.1 117.7,248.9 117.7,249.0 117.7,249.2 117.8,247.3 117.8,246.0 117.8,245.1 117.9,246.1 117.9,245.1 117.9,243.6 118.0,243.3 118.0,242.5 118.0,243.2 118.1,241.0 118.1,241.7 118.1,241.5 118.2,240.5 118.2,238.4 118.2,240.3 118.3,237.4 118.3,238.1 118.3,236.1 118.4,234.4 118.4,236.0 118.4,235.5 118.5,234.5 118.5,234.3 118.5,232.6 118.6,231.9 118.6,232.0 118.6,233.8 118.7,231.9 118.7,229.8 118.7,230.4 118.8,228.6 118.8,228.0 118.9,229.0 119.0,226.8 119.1,224.9 119.2,225.1 119.3,225.7 119.4,225.1 119.4,225.8 119.5,223.0 119.6,224.1 119.7,223.1 119.8,221.9 119.9,222.4 120.0,221.4 120.1,219.3 120.2,220.9 120.3,217.7 120.4,218.5 120.5,217.9 120.6,217.8 120.7,215.9 120.7,216.1 120.8,215.3 120.9,216.1 121.0,213.4 121.2,213.8 121.3,212.8 121.4,211.1 121.6,215.0 121.7,211.3 121.8,209.1 122.0,211.8 122.1,208.4 122.2,209.5 122.4,209.4 122.5,207.1 122.6,206.8 122.8,206.1 122.9,206.0 123.0,203.7 123.2,203.5 123.3,204.2 123.4,205.0 123.7,204.0 124.0,204.7 124.4,203.0 124.7,201.2 125.0,201.1 125.4,198.4 125.7,199.2 126.1,198.6 126.4,199.6 126.8,199.5 127.1,197.6 127.4,197.1 127.8,195.5 128.1,196.6 128.5,196.6 128.8,196.3 129.1,194.4 129.4,197.1 129.8,195.7 130.1,193.7 130.4,192.7 130.7,192.4 131.0,192.4 131.3,191.7 131.7,191.8 132.0,191.6 132.3,191.8 132.6,191.0 132.9,189.0 133.2,189.1 133.6,187.7 133.9,187.0 134.2,189.3 134.5,186.1 134.8,188.4 135.1,185.2 135.5,185.4 135.8,185.9 136.3,184.2 136.7,184.3 137.2,183.2 137.7,182.5 138.1,182.5 138.6,181.6 139.0,183.8 139.5,181.3 140.0,183.1 140.4,177.7 140.9,180.4 141.4,180.6 141.8,179.3 142.3,180.5 142.7,179.6 143.2,178.1 143.7,178.6 144.3,181.1 144.8,177.9 145.3,177.7 145.9,176.6 146.4,177.0 146.9,175.1 147.5,176.0 148.0,178.8 148.6,177.0 149.1,176.2 149.6,176.5 150.2,177.1 150.7,175.4 151.3,176.8 151.8,175.4 152.3,174.1 152.9,175.6 153.4,170.6 154.0,172.4 154.5,173.2 155.1,171.6 155.6,172.3 156.2,171.5 156.8,171.3 157.3,174.9 157.9,172.3 158.5,171.3 159.0,172.7 159.6,170.7 160.1,171.8 160.7,171.0 161.3,172.2 161.8,168.5 162.4,170.8 162.9,169.8 163.5,168.2 164.1,170.5 164.6,168.0 165.2,170.6 165.7,169.1 166.3,169.1 166.8,168.1 167.4,168.8 167.9,165.4 168.5,167.4 169.0,166.3 169.5,167.1 170.1,166.5 170.6,167.0 171.2,165.1 171.7,167.9 172.3,168.2 172.8,165.1 173.4,165.1 173.9,165.2 174.5,166.1 175.1,166.6 175.6,162.8 176.2,163.3 176.8,162.6 177.3,162.3 177.9,161.5 178.5,163.6 179.0,161.7 179.6,164.6 180.2,163.7 180.7,161.3 181.3,161.1 181.9,161.4 182.4,163.5 183.0,160.7 183.6,159.8 184.2,161.2 184.7,161.5 185.3,160.1 185.9,162.6 186.4,160.8 187.0,160.8 187.6,159.1 188.1,159.9 188.7,159.5 189.3,156.9 189.8,159.7 190.4,157.1 191.0,158.9 191.5,157.1 192.1,160.9 192.7,158.8 193.3,159.2 193.8,159.0 194.4,156.3 195.0,155.0 195.5,157.0 196.1,158.3 196.7,157.1 197.2,157.7 197.8,157.7 198.4,154.7 198.9,156.6 199.5,158.3 200.1,155.2 200.7,153.4 201.3,155.3 201.8,154.9 202.4,155.8 203.0,154.1 203.6,155.1 204.2,152.3 204.7,155.7 205.3,156.3 205.9,155.9 206.5,152.5 207.1,154.4 207.6,150.5 208.2,154.1 208.8,153.5 209.4,152.3 210.0,153.7 210.6,153.3 211.1,154.1 211.7,153.0 212.3,153.0 212.9,150.3 213.5,151.1 214.1,151.8 214.7,152.5 215.2,152.1 215.8,153.7 216.4,150.8 217.0,151.5 217.6,151.9 218.2,151.2 218.8,151.9 219.4,150.6 220.0,152.8 220.5,150.7 221.1,152.2 221.7,150.7 222.3,152.4 222.9,148.9 223.5,151.0 224.1,149.8 224.7,150.5 225.3,151.4 225.8,148.6 226.4,148.3 227.0,148.6 227.6,149.9 228.2,147.3 228.8,149.5 229.4,147.8 230.0,147.8 230.6,148.6 231.2,149.4 231.7,148.1 232.3,148.1 232.9,148.5 233.5,148.1 234.1,145.3 234.7,147.7 235.3,148.2 235.9,149.3 236.5,150.2 237.1,148.5 237.6,147.7 238.2,146.4 238.8,147.5 239.4,148.2 240.0,148.7 240.6,146.1 241.2,147.3 241.8,147.8 242.4,148.9 243.0,147.0 243.6,145.9 244.1,145.7 244.7,145.9 245.3,145.5 245.9,147.1 246.5,147.3 247.1,146.8 247.7,147.2 248.3,145.2 248.9,146.0 249.5,145.1 250.1,145.4 250.6,146.7 251.2,145.1 251.8,142.9 252.4,144.6 253.0,143.9 253.6,142.9 254.2,143.6 254.8,145.5 255.4,146.2 255.9,143.6 256.5,145.2 257.1,145.3 257.7,142.5 258.3,143.6 258.9,143.5 259.5,143.6 260.1,141.5 260.7,142.8 261.2,144.3 261.8,144.4 262.4,144.9 263.0,142.3 263.6,144.8 264.2,143.2 264.8,140.8 265.4,143.1 266.0,141.7 266.5,142.6 267.1,141.8 267.7,143.2 268.3,141.9 268.9,141.2 269.5,142.5 270.1,141.6 270.7,140.7 271.3,142.5 271.8,140.5 272.4,140.1 273.0,140.1 273.6,138.9 274.2,139.8 274.8,142.5 275.4,139.2 276.0,140.1 276.6,138.7 277.1,139.2 277.7,141.5 278.3,140.7 278.9,138.8 279.5,139.4 280.1,138.3 280.7,138.2 281.3,138.0 281.9,137.9 282.5,139.2 283.1,139.5 283.7,139.3 284.2,138.5 284.8,137.0 285.4,138.4 286.0,137.4 286.6,139.4 287.2,138.9 287.8,139.1 288.4,137.7 289.0,136.0 289.6,139.1 290.2,139.3 290.8,136.2 291.4,137.9 292.0,139.1 292.6,136.4 293.2,139.6 293.8,137.1 294.4,136.2 295.0,138.9 295.6,137.6 296.2,136.5 296.8,138.1 297.4,134.8 298.0,139.1 298.6,136.0 299.2,137.2 299.8,136.3 300.4,137.2 301.0,137.7 301.5,135.6 302.1,137.4 302.7,136.1 303.3,135.6 303.9,136.0 304.5,135.0 305.1,135.2 305.7,137.1 306.3,135.8 306.9,137.2 307.5,136.3 308.1,134.6 308.7,133.6 309.3,134.9 309.9,135.9 310.5,135.6 311.1,134.5 311.7,136.6 312.3,133.4 312.9,133.9 313.5,135.4 314.1,137.7 314.7,135.6 315.3,133.9 315.9,135.7 316.5,135.8 317.1,136.0 317.7,134.4 318.3,133.9 318.9,134.9 319.5,135.2 320.1,136.5 320.7,137.0 321.3,133.7 321.9,133.9 322.5,134.3 323.1,134.0 323.7,134.8 324.3,134.8 324.9,134.5 325.5,135.6 326.1,133.9 326.7,132.8 327.3,132.1 327.9,132.7 328.5,132.6 329.0,131.6 329.6,134.5 330.2,133.9 330.8,133.1 331.4,132.5 332.0,131.6 332.6,132.3 333.2,135.4 333.8,130.6 334.4,133.2 335.0,133.8 335.6,133.0 336.2,132.3 336.8,133.5 337.4,131.2 337.9,133.0 338.5,133.9 339.1,130.9 339.7,131.0 340.3,132.0 340.9,132.9 341.5,133.2 342.1,132.3 342.7,130.6 343.2,130.0 343.8,131.4 344.4,131.5 345.0,129.7 345.6,130.9 346.2,131.2 346.8,132.1 347.4,129.8 348.0,131.6 348.6,129.6 349.2,130.5 349.8,130.9 350.4,132.8 351.0,134.9 351.6,131.4 352.2,131.7 352.8,132.4 353.4,129.7 354.0,132.1 354.6,129.9" fill="none" stroke="#2d5e3a" stroke-width="2.5" stroke-linejoin="round" stroke-linecap="round"/>
<polyline clip-path="url(#lo)" points="116.6,65.1 116.8,63.5 116.9,279.0 117.0,280.3 117.0,279.7 117.0,279.5" fill="none" stroke="#2d5e3a" stroke-width="2.4" stroke-linejoin="round" stroke-linecap="round"/>
<polyline clip-path="url(#lo)" points="91.5,240.5 91.5,239.3 91.5,238.0 91.5,236.7 91.5,235.6 91.6,234.4 91.6,232.8 91.6,231.6 91.6,230.4 91.6,229.2 91.6,228.1 91.6,226.4 91.6,224.6 91.6,223.3 91.6,222.8 91.7,221.5 91.7,220.1 91.7,218.7 91.7,216.9 91.7,215.4 91.7,213.5 91.8,212.6 91.8,212.0 91.9,210.6 91.9,209.5 92.0,207.9 92.1,206.9 92.1,205.4 92.2,203.6 92.2,202.4 92.3,200.9 92.3,200.5 92.4,198.7 92.4,197.1 92.5,196.4 92.6,195.1 92.8,193.8 92.9,192.8 93.1,191.6 93.3,190.1 93.5,189.0 93.6,187.8 93.8,186.1 94.0,184.2 94.2,183.2 94.4,182.2 94.5,181.2 94.7,179.9 94.9,177.6 95.1,176.9 95.4,175.8 95.7,173.6 96.0,173.0 96.3,171.7 96.6,170.5 96.9,169.4 97.2,167.9 97.6,167.0 98.0,165.0 98.5,163.7 98.9,163.0 99.3,161.8 99.7,160.9 100.1,160.1 100.5,158.6 100.9,156.8 101.3,156.4 101.8,155.5 102.2,153.8 102.6,151.7 103.1,149.8 103.5,148.9 103.9,148.1 104.4,147.2 104.8,147.0 105.3,145.2 105.9,142.9 106.5,142.4 107.1,141.5 107.7,140.5 108.3,139.2 108.8,137.3 109.4,137.0 110.0,136.3 110.6,134.0 111.2,132.5 111.8,131.8 112.4,130.2 113.2,129.5 114.1,129.2 115.1,127.9 116.0,126.7 116.9,126.5 117.8,125.7 118.8,124.0 119.7,122.4 120.6,121.3 121.6,121.4 122.5,121.4 123.4,119.8 124.3,117.7 125.3,117.2 126.2,117.0 127.1,116.3 128.1,115.2 129.0,114.0 129.9,112.7 130.9,111.3 131.9,111.1 133.0,110.6 134.1,110.3 135.2,110.1 136.3,108.7 137.3,108.2 138.4,107.7 139.5,106.2 140.6,106.2 141.8,104.9 142.9,103.4 144.1,103.4 145.3,103.3 146.4,103.4 147.6,103.2 148.7,101.9 150.0,101.4 151.3,101.3 152.5,101.3 153.8,101.1 155.1,100.7 156.4,100.2 157.6,99.9 158.9,99.4 160.1,98.8 161.4,98.3 162.6,97.9 163.9,97.8 165.1,97.1 166.4,97.1 167.6,97.4 168.9,97.0 170.1,96.4 171.4,96.3 172.6,96.2 173.9,96.0 175.1,95.3 176.4,95.3 177.7,95.1 178.9,94.9 180.2,94.8 181.5,95.0 182.7,95.0 184.0,94.0 185.3,94.2 186.5,93.8 187.8,92.8 189.1,92.0 190.4,92.3 191.7,93.5 193.0,93.7 194.3,93.7 195.6,94.0 196.9,93.5 198.2,93.0 199.4,92.6 200.6,92.6 201.7,92.1 202.9,91.5 204.1,91.1 205.3,90.5 206.5,89.5 207.7,89.0 209.0,89.3 210.3,89.0 211.6,88.4 212.9,88.1 214.2,88.1 215.4,88.1 216.7,87.9 218.0,87.5 219.3,87.3 220.6,87.3 221.9,86.9 223.2,86.5 224.5,86.3 225.7,86.4 227.0,86.3 228.3,86.3 229.6,86.0 230.9,85.7 232.1,85.3 233.4,85.1 234.7,85.2 236.0,85.0 237.3,84.7 238.6,84.4 239.9,84.3 241.2,84.0 242.5,83.9 243.7,83.8 245.0,83.8 246.3,84.5 247.5,85.2 248.7,85.6 250.0,85.8 251.2,86.1 252.5,86.6 253.7,86.4 254.9,85.7 256.1,85.5 257.3,85.3 258.6,84.7 259.8,84.1 261.0,83.5 262.2,83.0 263.5,82.8 264.7,82.5 266.0,82.2 267.3,82.0 268.6,81.9 269.8,81.7 271.1,81.3 272.4,80.8 273.6,80.6 274.8,80.2 276.1,79.7 277.3,79.3 278.5,78.8 279.8,78.5 281.0,78.1 282.3,78.2 283.6,78.2 284.9,78.2 286.2,78.4 287.5,78.5 288.8,78.5 290.1,78.6 291.4,78.6 292.7,78.8 294.0,79.0 295.3,79.0 296.6,79.3 297.8,79.6 299.1,79.7 300.4,79.8 301.7,79.9 303.0,80.2 304.3,80.3 305.6,80.1 306.8,79.7 308.0,79.2 309.3,78.8 310.5,78.5 311.7,78.1 313.0,77.7 314.2,77.3 315.4,76.8 316.7,76.9 318.0,77.1 319.2,77.3 320.5,77.6 321.8,77.8 323.1,78.1 324.4,78.4 325.6,78.3 326.8,77.8 328.0,77.3 329.2,76.7 330.4,76.2 331.6,75.9 332.8,75.5 334.1,74.9 335.3,75.1 336.6,75.4 337.9,75.6 339.2,75.8 340.5,76.1 341.7,76.4 343.0,76.6 344.3,76.8 345.6,77.0 346.9,77.3 348.1,77.0 349.3,76.5 350.6,76.2 351.8,75.8 353.0,75.3 354.3,74.9 355.5,74.4 356.8,74.3 358.1,74.3 359.4,74.2 360.7,74.2 362.0,74.3 363.3,74.3 364.6,74.3 365.9,74.3 367.2,74.3 368.5,74.3 369.8,74.3 371.1,74.3 372.4,74.2 373.7,74.1 375.0,74.0 376.3,73.8 377.6,73.6 378.9,73.5 380.2,73.3 381.5,73.2 382.8,73.1 384.1,73.0 385.4,73.0 386.6,72.9 387.9,72.7 389.2,72.6 390.5,72.6 391.8,72.5 393.1,72.3 394.4,72.2 395.7,72.2 397.0,72.1 398.3,72.2 399.6,72.3 400.9,72.4 402.2,72.5 403.5,72.5 404.8,72.6 406.1,72.7 407.4,72.8 408.7,72.9 410.0,72.9 411.3,73.0 412.6,73.0 413.9,73.1 415.2,73.1 416.5,73.2 417.8,73.3 419.1,73.3 420.4,73.4 421.7,73.4 423.0,73.1 424.2,72.7 425.4,72.4 426.7,71.9 427.9,71.4 429.1,71.0 430.3,70.5 431.6,70.0 432.8,69.7 434.0,69.7 435.3,70.0 436.5,70.2 437.8,70.5 439.1,70.9 440.3,71.2 441.6,71.5 442.8,71.7 444.1,71.5 445.4,71.3 446.7,71.1 448.0,70.8 449.3,70.7 450.6,70.5 451.8,70.3 453.1,70.1 454.4,70.0 455.7,69.9 457.0,69.8 458.3,69.6 459.6,69.5 460.9,69.4 462.2,69.1 463.5,68.8 464.7,68.6 466.0,68.5 467.3,68.3 468.6,68.1 469.9,68.1 471.2,68.2 472.5,68.1 473.8,68.2 475.1,68.3 476.4,68.3 477.7,68.4 479.0,68.4 480.3,68.4 481.6,68.4 482.9,68.4 484.2,68.4 485.5,68.5 486.8,68.6 488.1,68.8 489.4,69.0 490.6,69.2 491.9,69.5 493.2,69.8 494.5,70.0 495.8,70.3 497.0,69.9 498.2,69.5 499.5,69.2 500.7,68.7 502.0,68.4 503.2,68.1 504.5,67.8 505.7,67.8 506.9,68.2 508.2,68.6 509.4,69.1 510.6,69.5 511.9,69.2 513.2,69.0 514.5,68.8 515.8,68.6 517.1,68.3 518.4,68.2 519.6,67.9 520.9,67.7 522.2,67.6 523.5,67.4 524.8,67.3 526.1,67.2 527.4,67.2 528.7,67.1 530.0,67.0" fill="none" stroke="#7c5ea8" stroke-width="2.6" stroke-linejoin="round" stroke-linecap="round"/>
<polyline clip-path="url(#lo)" points="91.2,214.1 91.2,213.0 91.2,211.6 91.2,210.9 91.2,209.8 91.2,207.7 91.2,207.2 91.2,205.8 91.3,203.6 91.3,201.9 91.3,201.1 91.3,200.5 91.3,199.4 91.3,198.0 91.3,196.3 91.3,195.0 91.4,194.4 91.4,192.7 91.5,192.1 91.5,190.9 91.6,188.8 91.6,188.3 91.7,186.9 91.7,185.1 91.8,183.7 91.8,182.8 91.9,180.3 91.9,178.7 92.0,178.2 92.1,176.4 92.2,175.3 92.3,174.4 92.5,173.2 92.6,171.6 92.7,170.6 92.8,168.7 93.0,166.7 93.1,165.7 93.3,164.8 93.5,163.8 93.8,162.6 94.0,161.3 94.2,160.2 94.5,159.5 94.7,157.6 95.0,155.4 95.2,153.9 95.5,152.7 95.7,152.3 95.9,151.8 96.3,149.7 96.7,148.9 97.1,148.0 97.5,145.3 97.9,144.5 98.3,144.5 98.7,142.9 99.1,140.9 99.5,140.1 100.1,139.1 100.7,137.5 101.2,136.6 101.8,135.6 102.4,134.1 103.0,132.4 103.5,131.7 104.1,130.1 104.7,128.8 105.3,128.6 106.2,127.6 107.0,126.4 107.8,125.3 108.6,124.7 109.4,123.2 110.2,121.9 111.1,121.4 111.9,120.0 112.7,118.5 113.6,118.5 114.4,118.2 115.3,116.4 116.2,115.4 117.3,115.1 118.3,114.6 119.4,114.1 120.5,112.1 121.6,110.8 122.7,111.5 123.8,111.5 124.9,110.1 126.0,108.4 127.1,108.1 128.3,107.6 129.4,106.9 130.5,106.0 131.7,105.8 132.9,105.9 134.1,105.4 135.3,104.3 136.5,103.1 137.8,102.5 139.0,102.8 140.2,102.2 141.4,101.7 142.5,102.4 143.7,101.4 144.9,100.1 146.1,100.2 147.2,100.0 148.4,98.9 149.6,98.0 150.9,98.0 152.1,97.6 153.4,97.4 154.7,97.3 155.9,97.2 157.2,96.1 158.4,95.7 159.7,96.3 160.9,95.5 162.2,95.0 163.4,95.1 164.7,94.7 166.0,93.9 167.2,93.6 168.4,92.9 169.6,91.9 170.8,91.4 172.0,91.1 173.3,91.0 174.5,91.0 175.7,90.5 176.9,90.4 178.2,90.3 179.5,89.6 180.8,89.4 182.1,89.3 183.4,89.4 184.7,90.1 186.0,89.6 187.2,89.1 188.5,89.3 189.8,89.1 191.1,88.8 192.4,88.6 193.7,88.4 194.9,88.2 196.2,87.6 197.5,87.3 198.8,87.8 200.0,86.9 201.3,86.6 202.5,86.3 203.8,86.0 205.0,85.9 206.3,85.5 207.5,85.2 208.8,84.7 210.1,85.0 211.4,85.6 212.7,85.0 214.0,84.8 215.3,85.2 216.6,84.9 217.9,84.3 219.2,84.4 220.4,84.3 221.7,84.0 223.0,84.2 224.3,83.8 225.5,83.0 226.8,82.8 228.0,82.3 229.3,81.6 230.5,82.0 231.8,81.6 233.0,80.8 234.3,80.4 235.5,80.0 236.8,80.0 238.1,79.4 239.4,79.1 240.7,79.4 242.0,79.4 243.2,79.1 244.5,78.8 245.8,79.0 247.1,79.3 248.4,79.4 249.7,79.7 250.9,80.2 252.2,80.3 253.5,80.2 254.8,80.1 256.1,79.6 257.3,79.3 258.6,79.1 259.9,78.9 261.2,78.7 262.4,78.4 263.7,78.1 265.0,78.0 266.3,77.8 267.5,77.4 268.8,77.1 270.1,77.0 271.4,76.7 272.6,76.2 273.9,76.0 275.1,75.8 276.4,75.4 277.6,74.9 278.9,74.5 280.1,74.2 281.4,74.1 282.7,74.2 284.0,74.4 285.3,74.6 286.6,74.8 287.8,74.8 289.1,74.9 290.4,74.9 291.7,74.9 293.0,74.9 294.3,74.8 295.6,74.8 296.9,74.8 298.2,74.9 299.5,75.1 300.8,75.3 302.1,75.4 303.4,75.4 304.7,75.5 306.0,75.7 307.3,75.7 308.6,75.5 309.9,75.2 311.1,74.9 312.4,74.9 313.7,74.7 315.0,74.4 316.3,74.2 317.6,74.1 318.9,73.9 320.1,73.7 321.4,73.5 322.7,73.3 324.0,73.2 325.3,72.9 326.6,72.7 327.9,72.5 329.1,72.3 330.4,72.1 331.7,71.9 333.0,71.7 334.3,71.5 335.6,71.3 336.9,71.1 338.1,70.9 339.4,70.7 340.7,71.1 341.9,71.5 343.1,71.9 344.3,72.4 345.6,72.8 346.8,73.3 348.0,73.6 349.2,73.8 350.5,73.5 351.7,73.0 353.0,72.7 354.2,72.4 355.5,72.0 356.7,71.6 357.9,71.2 359.2,71.0 360.5,70.9 361.8,70.7 363.1,70.6 364.4,70.5 365.7,70.3 367.0,70.1 368.3,69.9 369.6,69.9 370.8,70.1 372.1,70.3 373.4,70.5 374.7,70.8 376.0,70.9 377.3,71.1 378.6,71.3 379.9,71.5 381.1,71.6 382.4,71.4 383.7,71.2 385.0,71.1 386.3,71.1 387.6,70.9 388.9,70.8 390.2,70.7 391.5,70.6 392.8,70.3 394.0,70.0 395.3,69.7 396.6,69.4 397.9,69.2 399.1,68.9 400.4,69.0 401.7,69.3 402.9,69.6 404.2,69.8 405.5,70.1 406.7,70.4 408.0,70.6 409.3,70.4 410.6,70.2 411.8,69.9 413.1,69.6 414.4,69.5 415.7,69.6 417.0,69.8 418.3,69.9 419.5,70.0 420.8,70.2 422.1,70.4 423.4,70.6 424.7,70.6 426.0,70.4 427.3,70.2 428.5,70.0 429.8,69.7 431.1,69.5 432.4,69.2 433.7,69.0 434.9,68.8 436.2,68.6 437.5,68.4 438.8,68.3 440.1,68.3 441.4,68.3 442.7,68.2 444.0,68.1 445.3,68.0 446.6,67.9 447.9,67.9 449.2,67.8 450.5,67.6 451.8,67.4 453.1,67.3 454.4,67.3 455.7,67.2 457.0,67.0 458.3,66.9 459.5,66.7 460.8,66.6 462.1,66.5 463.4,66.7 464.7,66.7 466.0,66.7 467.3,66.8 468.6,66.8 469.9,66.8 471.2,66.8 472.5,66.9 473.8,66.9 475.1,66.9 476.4,67.0 477.7,67.1 479.0,67.0 480.3,67.0 481.6,67.1 482.9,67.1 484.2,67.2 485.5,67.3 486.8,67.3 488.1,67.3 489.4,67.4 490.7,67.4 492.0,67.4 493.3,67.5 494.6,67.6 495.9,67.5 497.2,67.4 498.5,67.5 499.8,67.5 501.1,67.4 502.4,67.5 503.7,67.2 504.8,66.6 506.0,66.0 507.2,65.5 508.3,64.9 509.5,64.3 510.7,64.0 512.0,64.3 513.2,64.6 514.5,64.9 515.8,65.3 517.0,65.6 518.3,65.7 519.6,65.7 520.9,65.8 522.2,65.7 523.5,65.7 524.8,65.8 526.1,65.7 527.4,65.7 528.7,65.7 530.0,65.8" fill="none" stroke="#8a5a2a" stroke-width="2.8" stroke-linejoin="round" stroke-linecap="round"/>
</g></g>
<path d="M90.5 13.5 H529.5 V308.5" fill="none" stroke="#7a7a7a" stroke-width="1"/>
<path d="M90.5 13.5 V308.5 H529.5" fill="none" stroke="#505050" stroke-width="1"/>
<g stroke="#777" stroke-width="1"><line x1="163.6" y1="308.5" x2="163.6" y2="304"/><line x1="163.6" y1="13.5" x2="163.6" y2="18"/><line x1="236.7" y1="308.5" x2="236.7" y2="304"/><line x1="236.7" y1="13.5" x2="236.7" y2="18"/><line x1="309.9" y1="308.5" x2="309.9" y2="304"/><line x1="309.9" y1="13.5" x2="309.9" y2="18"/><line x1="383.0" y1="308.5" x2="383.0" y2="304"/><line x1="383.0" y1="13.5" x2="383.0" y2="18"/><line x1="456.1" y1="308.5" x2="456.1" y2="304"/><line x1="456.1" y1="13.5" x2="456.1" y2="18"/><line x1="90.5" y1="62.7" x2="95" y2="62.7"/><line x1="529.5" y1="62.7" x2="525" y2="62.7"/><line x1="90.5" y1="111.8" x2="95" y2="111.8"/><line x1="529.5" y1="111.8" x2="525" y2="111.8"/><line x1="90.5" y1="161.0" x2="95" y2="161.0"/><line x1="529.5" y1="161.0" x2="525" y2="161.0"/><line x1="90.5" y1="210.2" x2="95" y2="210.2"/><line x1="529.5" y1="210.2" x2="525" y2="210.2"/><line x1="90.5" y1="259.3" x2="95" y2="259.3"/><line x1="529.5" y1="259.3" x2="525" y2="259.3"/></g>
<g font-family="Liberation Sans, Arial, sans-serif" font-size="16" fill="#444" letter-spacing="0.4">
<text x="90.3" y="331.3" text-anchor="middle">0</text>
<text x="163.4" y="331.3" text-anchor="middle">100</text>
<text x="236.5" y="331.3" text-anchor="middle">200</text>
<text x="309.7" y="331.3" text-anchor="middle">300</text>
<text x="382.8" y="331.3" text-anchor="middle">400</text>
<text x="455.9" y="331.3" text-anchor="middle">500</text>
<text x="529.0" y="331.3" text-anchor="middle">600</text>
<text x="84.9" y="19.5" text-anchor="end">0.2</text>
<text x="84.9" y="68.7" text-anchor="end">0</text>
<text x="84.9" y="117.8" text-anchor="end">-0.2</text>
<text x="84.9" y="167.0" text-anchor="end">-0.4</text>
<text x="84.9" y="216.2" text-anchor="end">-0.6</text>
<text x="84.9" y="265.3" text-anchor="end">-0.8</text>
<text x="84.9" y="314.5" text-anchor="end">-1</text>
</g>
<g font-family="Liberation Sans, Arial, sans-serif" font-size="18.2" fill="#444">
<text x="309.8" y="355.9" text-anchor="middle">t (s)</text>
<text transform="translate(22.2,159.5) rotate(-90)" text-anchor="middle"><tspan font-style="italic">δ</tspan> c / c [percent]</text>
</g>
<rect x="237.2" y="175.5" width="275.3" height="120.5" fill="#fff" stroke="#6a6a6a" stroke-width="1"/>
<rect x="240" y="200" width="32" height="8" fill="#eefcfc"/>
<rect x="240" y="240" width="30" height="50" fill="#fdf4fa"/>
<g font-family="Liberation Sans, Arial, sans-serif" font-size="15" fill="#1a1a1a">
<line x1="241" y1="186.6" x2="267.2" y2="186.6" stroke="#111" stroke-width="2.3"/>
<text x="270.3" y="191.9">temperature</text>
<line x1="241" y1="206.5" x2="267.2" y2="206.5" stroke="#33693f" stroke-width="2.3"/>
<text x="270.3" y="211.8">impact</text>
<line x1="241" y1="225.4" x2="267.2" y2="225.4" stroke="#2a3a9a" stroke-width="2.3"/>
<text x="270.3" y="230.7">Sample on foam</text>
<line x1="241" y1="245.4" x2="267.2" y2="245.4" stroke="#c4a432" stroke-width="2.3"/>
<text x="270.3" y="250.7">Sample vertically suspended - run 1</text>
<line x1="241" y1="265.4" x2="267.2" y2="265.4" stroke="#7c539c" stroke-width="2.3"/>
<text x="270.3" y="270.7">Sample vertically suspended - run 2</text>
<line x1="241" y1="284.7" x2="267.2" y2="284.7" stroke="#a04020" stroke-width="2.3"/>
<text x="270.3" y="290.0">Sample horizontally suspended</text>
</g>
</svg></body></html>
